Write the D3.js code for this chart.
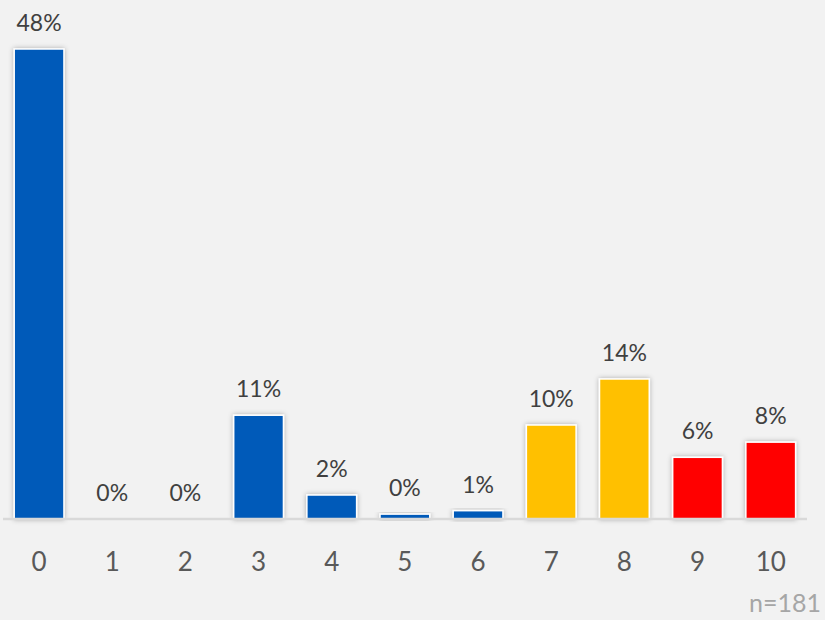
<!DOCTYPE html>
<html>
<head>
<meta charset="utf-8">
<script src="https://cdn.jsdelivr.net/npm/d3@7"></script>
<style>
  html, body { margin: 0; padding: 0; background: #f2f2f2; }
  svg { display: block; }
</style>
</head>
<body>
<div id="chart"></div>
<script>
const categories = ["0","1","2","3","4","5","6","7","8","9","10"];
const values = [48, 0, 0, 10.6, 2.45, 0.5, 0.85, 9.6, 14.3, 6.3, 7.85];
const labels = ["48%","0%","0%","11%","2%","0%","1%","10%","14%","6%","8%"];
const groups = ["blue","blue","blue","blue","blue","blue","blue","yellow","yellow","red","red"];
const note = "n=181";

const W = 825, H = 620;
const colorMap = { blue: "#005ab9", yellow: "#ffc000", red: "#ff0000" };

const svg = d3.select("#chart").append("svg")
  .attr("width", W).attr("height", H);

svg.append("rect").attr("width", W).attr("height", H).attr("fill", "#f2f2f2");

const defs = svg.append("defs");
const f = defs.append("filter").attr("id", "shadow")
  .attr("x", "-30%").attr("y", "-30%").attr("width", "160%").attr("height", "160%");
f.append("feDropShadow").attr("dx", 0).attr("dy", 0).attr("stdDeviation", 2.5)
  .attr("flood-color", "#000").attr("flood-opacity", 0.3);

const x = d3.scaleBand().domain(categories).range([2.5, 807.3]).paddingInner(0.32).paddingOuter(0.16);
const y = d3.scaleLinear().domain([0, 48]).range([519, 49]);

// bars
svg.append("g").selectAll("rect").data(categories).join("rect")
  .attr("x", d => x(d))
  .attr("y", (d, i) => y(values[i]))
  .attr("width", x.bandwidth())
  .attr("height", (d, i) => y(0) - y(values[i]))
  .attr("fill", (d, i) => colorMap[groups[i]])
  .attr("stroke", (d, i) => values[i] > 0 ? "#ffffff" : "none")
  .attr("stroke-width", 1.5)
  .attr("filter", (d, i) => values[i] > 0 ? "url(#shadow)" : null);

// axis
const axis = d3.axisBottom(x).tickSize(0).tickPadding(0);
const ag = svg.append("g").attr("transform", `translate(0,${y(0)})`).call(axis);
ag.select(".domain").attr("stroke", "#d9d9d9").attr("stroke-width", 2.5)
  .attr("d", `M3,0H807`);
ag.selectAll(".tick text")
  .attr("y", 52).attr("dy", 0)
  .attr("font-family", "Lato, sans-serif").attr("font-size", 26)
  .attr("fill", "#595959");

// data labels
svg.append("g").selectAll("text").data(categories).join("text")
  .attr("x", d => x(d) + x.bandwidth() / 2)
  .attr("y", (d, i) => y(values[i]) - 18)
  .attr("text-anchor", "middle")
  .attr("font-family", "Lato, sans-serif").attr("font-size", 23)
  .attr("fill", "#404040")
  .text((d, i) => labels[i]);

// note
svg.append("text").attr("x", 821).attr("y", 612).attr("text-anchor", "end")
  .attr("font-family", "Lato, sans-serif").attr("font-size", 25)
  .attr("fill", "#a6a6a6").text(note);
</script>
</body>
</html>
